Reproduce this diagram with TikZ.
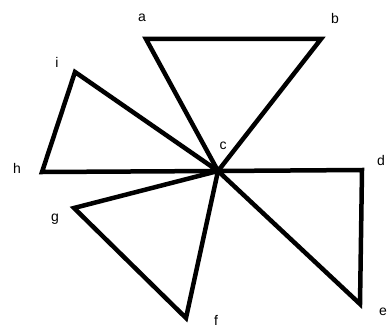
\documentclass[tikz,border=0pt]{standalone}
\usepackage{fontspec}
\setsansfont{Liberation Sans}
\usetikzlibrary{positioning}

\begin{document}
\begin{tikzpicture}[x=1pt, y=-1pt,
    lbl/.style={font=\sffamily\fontsize{14}{14}\selectfont, inner sep=0pt},
    edge/.style={line width=4.5pt, line join=miter}]
            \useasboundingbox (0,0) rectangle (387,329);

            % Corner points
            \foreach \n/\x/\y in {
                a/146/39, b/321/39, c/218/171, d/362/170, e/360/304,
                f/186/318, g/74/208, h/42/172, i/75/72
            } {
                \coordinate (\n) at (\x,\y);
            }

            % Letters
            \foreach \n/\x/\y in {
                a/142/18, b/335/18, c/223/146, d/381/160, e/383/312,
                f/216/320, g/55/219, h/17/168, i/57/62
            } {
                \node[lbl] (l\n) at (\x,\y) {\n};
            }

            % Triangles round c
            \foreach \p/\q in {a/b, d/e, f/g, h/i} {
                \draw[edge] (\p) -- (\q) -- (c) -- cycle;
            }
        \end{tikzpicture}
\end{document}
